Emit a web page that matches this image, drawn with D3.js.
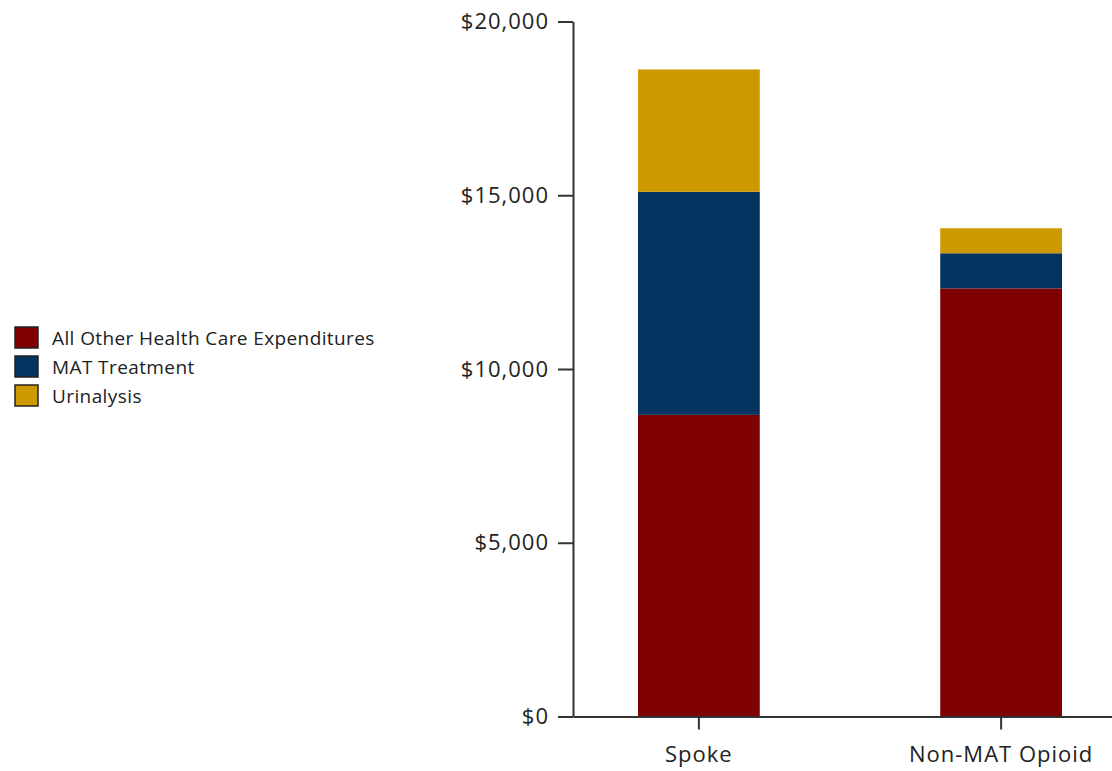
<!DOCTYPE html>
<html lang="en">
<head>
    <meta charset="UTF-8"/>
    <title>Stacked expenditures</title>
    <script src="https://d3js.org/d3.v7.min.js"></script>
    <style type="text/css">
        body { margin: 0; background: #fff; }
        text { font-family: "Open Sans", sans-serif; fill: #222; }
        .axis path, .axis line { stroke: #333; stroke-width: 2px; }
        .axis text { font-size: 22px; letter-spacing: 1px; }
        .legend text { font-size: 19px; letter-spacing: 0.4px; }
    </style>
</head>
<body>
<div id="chart"></div>
<script type="text/javascript">

    var groups = ["Spoke", "Non-MAT Opioid"];
    var seriesNames = ["All Other Health Care Expenditures", "MAT Treatment", "Urinalysis"];
    var otherCare = [8680, 12320];
    var matTreatment = [6420, 1010];
    var urinalysis = [3520, 720];
    var yTicks = [0, 5000, 10000, 15000, 20000];
    var colors = ["#7f0000", "#03345f", "#cc9900"];

    var width = 1112, height = 771;

    var svg = d3.select("#chart")
        .append("svg")
        .attr("width", width)
        .attr("height", height);

    var rows = groups.map(function(g, i) {
        return { group: g, a: otherCare[i], b: matTreatment[i], c: urinalysis[i] };
    });
    var stack = d3.stack().keys(["a", "b", "c"]);
    var layers = stack(rows);

    var x = d3.scaleBand()
        .domain(groups)
        .range([573, 1127])
        .paddingInner(0.597)
        .paddingOuter(0.215);

    var y = d3.scaleLinear()
        .domain([0, 20000])
        .range([716.5, 21.5]);

    svg.append("g")
        .selectAll("g")
        .data(layers)
        .enter()
        .append("g")
        .attr("fill", function(d, i) { return colors[i]; })
        .selectAll("rect")
        .data(function(d) { return d; })
        .enter()
        .append("rect")
        .attr("x", function(d) { return x(d.data.group); })
        .attr("width", x.bandwidth())
        .attr("y", function(d) { return y(d[1]); })
        .attr("height", function(d) { return y(d[0]) - y(d[1]); });

    svg.append("g")
        .attr("class", "axis")
        .attr("transform", "translate(573,0)")
        .call(d3.axisLeft(y)
            .tickValues(yTicks)
            .tickSizeInner(15)
            .tickSizeOuter(0)
            .tickPadding(9)
            .tickFormat(function(d) { return "$" + d3.format(",")(d); }));

    svg.append("g")
        .attr("class", "axis")
        .attr("transform", "translate(0," + y(0) + ")")
        .call(d3.axisBottom(x).tickSizeInner(13).tickSizeOuter(0).tickPadding(17));

    var legend = svg.append("g")
        .attr("class", "legend")
        .attr("transform", "translate(15,327)");

    var item = legend.selectAll("g")
        .data(seriesNames)
        .enter()
        .append("g")
        .attr("transform", function(d, i) { return "translate(0," + (i * 29) + ")"; });

    item.append("rect")
        .attr("width", 23)
        .attr("height", 21)
        .attr("fill", function(d, i) { return colors[i]; })
        .attr("stroke", "#222")
        .attr("stroke-width", 1.5);

    item.append("text")
        .attr("x", 37)
        .attr("y", 11)
        .attr("dy", "0.35em")
        .text(function(d) { return d; });

</script>
</body>
</html>
